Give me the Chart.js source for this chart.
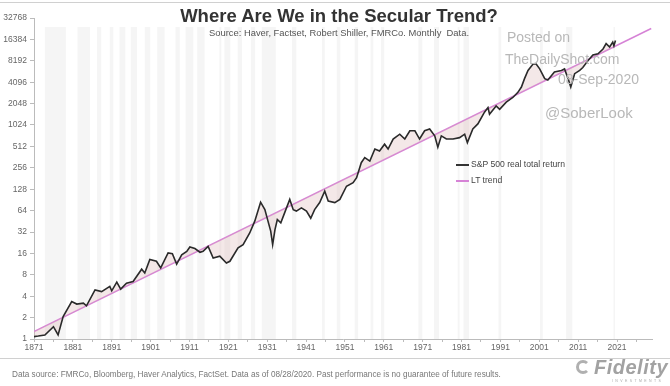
<!DOCTYPE html>
<html>
<head>
<meta charset="utf-8">
<script src="https://cdn.jsdelivr.net/npm/chart.js@4/dist/chart.umd.min.js"></script>
<style>
  html, body { margin: 0; padding: 0; background: #fff; }
  #wrap { position: relative; width: 670px; height: 386px; overflow: hidden; font-family: "Liberation Sans", Arial, sans-serif; }
  #chart { position: absolute; left: 0; top: 0; }
  .txt { position: absolute; white-space: nowrap; }
  .title { left: 0; width: 670px; text-align: center; top: 5px; font-size: 18.5px; font-weight: bold; color: #333; padding-left: 4px; }
  .sub { left: 0; width: 670px; text-align: center; top: 27px; font-size: 9.4px; color: #555; padding-left: 4px; }
  .wm { color: #b8b8b8; font-size: 14px; }
  .leg { font-size: 8.6px; color: #444; }
  .legline { position: absolute; width: 13px; height: 2px; }
  .foot { left: 12px; top: 370px; font-size: 8.2px; color: #777; }
  .logo { left: 594px; top: 356px; font-size: 20px; font-weight: bold; font-style: italic; color: #a2a2a2; letter-spacing: 0.5px; }
  .logo2 { left: 612px; top: 379px; font-size: 3.5px; color: #aaa; letter-spacing: 2.4px; }
  .rule { position: absolute; left: 0; width: 670px; height: 1px; background: #d0d0d0; }
</style>
</head>
<body>
<div id="wrap">
  <canvas id="chart" width="670" height="386"></canvas>
  <div class="rule" style="top:2px"></div>
  <div class="rule" style="top:358px"></div>
  <div class="txt title">Where Are We in the Secular Trend?</div>
  <div class="txt sub">Source: Haver, Factset, Robert Shiller, FMRCo. Monthly&nbsp; Data.</div>
  <div class="txt wm" style="left:507px;top:29px">Posted on</div>
  <div class="txt wm" style="left:505px;top:51px">TheDailyShot.com</div>
  <div class="txt wm" style="left:558px;top:71px">08-Sep-2020</div>
  <div class="txt wm" style="left:545px;top:104px;font-size:15px">@SoberLook</div>
  <div class="legline" style="left:456px;top:164px;background:#333"></div>
  <div class="txt leg" style="left:471px;top:159px">S&amp;P 500 real total return</div>
  <div class="legline" style="left:456px;top:180px;background:#d683d6"></div>
  <div class="txt leg" style="left:471px;top:175px">LT trend</div>
  <div class="txt foot">Data source: FMRCo, Bloomberg, Haver Analytics, FactSet. Data as of 08/28/2020. Past performance is no guarantee of future results.</div>
  <div class="txt" style="left:576px;top:360px;width:14px;height:14px;border-radius:50%;border:3px solid #b0b0b0;border-right-color:transparent;box-sizing:border-box"></div>
  <div class="txt logo">Fidelity</div>
  <div class="txt logo2">INVESTMENTS</div>
</div>
<script>
// S&P 500 real total return (index, log2 scale)
const years = [
  1871.0, 1872.1, 1873.8, 1876.0, 1877.2, 1878.5, 1880.7, 1882.0, 1883.7, 1884.5,
  1886.7, 1888.4, 1890.5, 1891.0, 1892.3, 1893.3, 1894.8, 1896.5, 1898.7, 1899.5,
  1900.8, 1902.5, 1903.6, 1905.5, 1906.6, 1907.7, 1909.0, 1910.3, 1911.1, 1912.4,
  1913.7, 1914.5, 1915.8, 1917.1, 1918.8, 1920.5, 1921.4, 1923.5, 1924.8, 1926.5,
  1927.8, 1929.3, 1930.4, 1931.2, 1931.9, 1932.4, 1933.0, 1933.6, 1934.5, 1935.5,
  1936.8, 1937.7, 1938.5, 1939.8, 1941.1, 1942.2, 1943.2, 1944.5, 1945.8, 1946.7,
  1948.4, 1949.7, 1951.4, 1953.1, 1954.0, 1955.2, 1956.1, 1957.4, 1958.7, 1959.9,
  1961.2, 1962.1, 1963.4, 1965.1, 1966.4, 1967.7, 1969.0, 1970.2, 1971.5, 1972.8,
  1974.1, 1974.9, 1975.8, 1977.1, 1978.8, 1980.5, 1981.8, 1982.5, 1983.9, 1985.2,
  1986.9, 1987.8, 1988.2, 1989.9, 1990.8, 1992.5, 1994.2, 1995.5, 1996.4, 1997.2,
  1998.1, 1999.4, 2000.2, 2001.1, 2002.4, 2003.2, 2004.9, 2006.7, 2007.5, 2008.4,
  2009.1, 2010.1, 2011.4, 2012.2, 2013.5, 2014.8, 2016.1, 2017.4, 2018.2, 2019.1,
  2019.9, 2020.2, 2020.6
];
const spxReal = [
  1.08, 1.1, 1.14, 1.49, 1.14, 2.07, 3.37, 3.1, 3.2, 2.93,
  4.9, 4.65, 5.5, 4.76, 6.3, 5.03, 6.1, 6.45, 9.6, 8.5,
  13.1, 12.4, 10, 16.2, 15.8, 11.3, 15.3, 17.1, 19.7, 18.7,
  16.6, 17.1, 20.1, 13.8, 14.6, 11.7, 12.4, 19.1, 21.3, 31,
  45.5, 84, 66, 45.5, 33, 21.3, 34.6, 48, 43, 60,
  92, 66, 63, 70, 63, 50, 66, 83, 120, 87,
  83, 92, 141, 158, 186, 302, 356, 318, 470, 440,
  550, 470, 650, 760, 650, 850, 850, 650, 850, 900,
  720, 500, 720, 650, 650, 680, 760, 580, 900, 1060,
  1550, 1800, 1450, 1900, 1700, 2150, 2500, 2950, 3500, 4600,
  6000, 7400, 7400, 6300, 4600, 4400, 5700, 6000, 6300, 4600,
  3500, 5400, 6000, 6600, 8200, 9900, 10300, 12000, 14300, 12800,
  15000, 13300, 15800
];
// long-term trend line end points
const trendYears = [1871, 2029.8];
const trendValues = [1.27, 23300];

// axis ticks
const yTicks = [1, 2, 4, 8, 16, 32, 64, 128, 256, 512, 1024, 2048, 4096, 8192, 16384, 32768];
const xTickStart = 1871, xTickEnd = 2026, xTickStep = 5, xLabelStep = 10;

// shaded periods (recessions) as [start, end]
const recessions = [
  [1873.8, 1879.2], [1882.2, 1885.4], [1887.2, 1888.3], [1890.5, 1891.4], [1893.0, 1894.5],
  [1895.9, 1897.5], [1899.5, 1900.9], [1902.7, 1904.6], [1907.4, 1908.5], [1910.0, 1912.0],
  [1913.0, 1914.9], [1918.7, 1919.2], [1920.0, 1921.5], [1923.4, 1924.5], [1926.8, 1927.9],
  [1929.6, 1933.2], [1937.4, 1938.5], [1945.1, 1945.8], [1948.9, 1949.8], [1953.5, 1954.4],
  [1957.6, 1958.3], [1960.3, 1961.1], [1969.9, 1970.9], [1973.9, 1975.2], [1980.0, 1980.5],
  [1981.5, 1982.9], [1990.5, 1991.2], [2001.2, 2001.9], [2007.9, 2009.5], [2020.1, 2020.4]
];

const bandsPlugin = {
  id: 'bands',
  beforeDatasetsDraw(chart) {
    const { ctx, chartArea, scales } = chart;
    ctx.save();
    ctx.fillStyle = '#f5f5f5';
    recessions.forEach(function (r) {
      const x1 = scales.x.getPixelForValue(r[0]);
      const x2 = scales.x.getPixelForValue(r[1]);
      ctx.fillRect(x1, chartArea.top + 9, Math.max(x2 - x1, 1.5), chartArea.bottom - chartArea.top - 9);
    });
    ctx.restore();
  }
};

const xTicks = [];
for (let v = xTickStart; v <= xTickEnd; v += xTickStep) xTicks.push(v);

const tickFont = { family: '"Liberation Sans", Arial, sans-serif', size: 8.5 };

new Chart(document.getElementById('chart').getContext('2d'), {
  type: 'line',
  data: {
    datasets: [{
      label: 'S&P 500 real total return',
      data: years.map((y, i) => ({ x: y, y: spxReal[i] })),
      borderColor: '#2a2a2a',
      borderWidth: 1.6,
      pointRadius: 0,
      tension: 0,
      fill: { target: 1, above: 'rgba(222,185,185,0.32)', below: 'rgba(222,185,185,0.32)' },
      order: 0
    }, {
      label: 'LT trend',
      data: trendYears.map((y, i) => ({ x: y, y: trendValues[i] })),
      borderColor: '#d683d6',
      borderWidth: 1.5,
      pointRadius: 0,
      fill: false,
      order: 1
    }]
  },
  options: {
    responsive: false,
    animation: false,
    layout: { padding: { left: 0, right: 18, top: 18, bottom: 33 } },
    plugins: { legend: { display: false }, tooltip: { enabled: false }, title: { display: false } },
    scales: {
      x: {
        type: 'linear',
        min: 1871,
        max: 2030,
        afterBuildTicks: function (scale) { scale.ticks = xTicks.map(v => ({ value: v })); },
        afterFit: function (scale) { scale.height = 14; },
        ticks: {
          autoSkip: false, maxRotation: 0, color: '#666', font: tickFont, padding: 1,
          callback: v => ((v - xTickStart) % xLabelStep === 0 ? String(v) : '')
        },
        grid: { drawOnChartArea: false, tickLength: 3, color: '#bbb' },
        border: { color: '#bbb' }
      },
      y: {
        type: 'logarithmic',
        min: 1,
        max: 32768,
        afterBuildTicks: function (scale) { scale.ticks = yTicks.map(v => ({ value: v })); },
        afterFit: function (scale) { scale.width = 34; },
        ticks: { color: '#666', font: tickFont, padding: 3, callback: v => String(v) },
        grid: { drawOnChartArea: false, tickLength: 4, color: '#bbb' },
        border: { color: '#bbb' }
      }
    }
  },
  plugins: [bandsPlugin]
});
</script>
</body>
</html>
